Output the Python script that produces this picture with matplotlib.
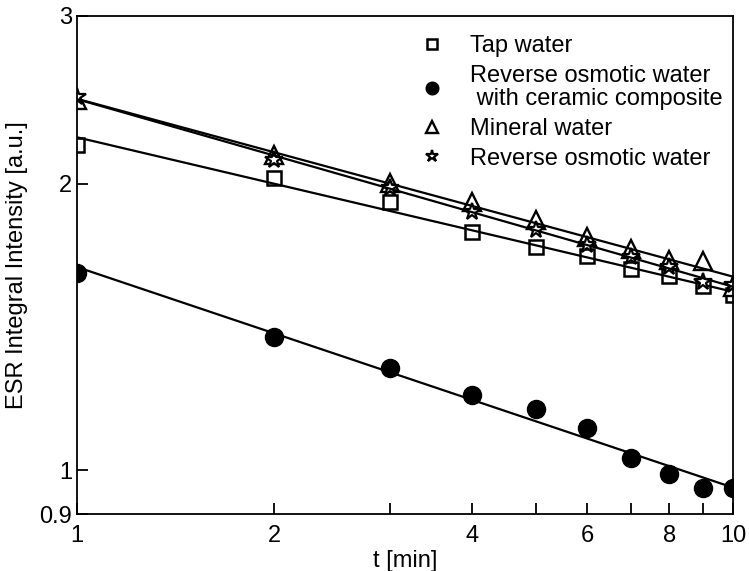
import numpy as np
import matplotlib
matplotlib.use('Agg')
import matplotlib.pyplot as plt
from matplotlib.ticker import FixedLocator, NullFormatter, NullLocator

plt.rcParams['font.family'] = ['Liberation Sans', 'DejaVu Sans']

t = [1, 2, 3, 4, 5, 6, 7, 8, 9, 10]
tap = [2.196, 2.028, 1.913, 1.780, 1.718, 1.679, 1.626, 1.600, 1.562, 1.528]
ro_ceramic = [1.612, 1.381, 1.281, 1.200, 1.160, 1.109, 1.031, 0.991, 0.959, 0.959]
mineral = [2.449, 2.144, 2.002, 1.912, 1.832, 1.760, 1.707, 1.663, 1.659, 1.557]
ro = [2.468, 2.118, 1.978, 1.869, 1.788, 1.724, 1.676, 1.636, 1.578, 1.566]

labels = ['Tap water', 'Reverse osmotic water\n with ceramic composite',
          'Mineral water', 'Reverse osmotic water']

fig = plt.figure(figsize=(7.49, 5.71), dpi=100)
ax = fig.add_axes([0.1028, 0.0998, 0.8758, 0.8722])

styles = [
    dict(marker='s', mfc='white', mec='black', ms=10, mew=1.8),
    dict(marker='o', mfc='black', mec='black', ms=13, mew=1),
    dict(marker='^', mfc='white', mec='black', ms=13, mew=1.7),
    dict(marker='*', mfc='white', mec='black', ms=13, mew=1.6),
]

tt = np.array(t, dtype=float)
xfit = np.linspace(1, 10, 50)
for y, lab, st in zip([tap, ro_ceramic, mineral, ro], labels, styles):
    ax.plot(t, y, linestyle='none', label=lab, **st)
    # power-law fit (straight line in log-log)
    k, b = np.polyfit(np.log(tt), np.log(y), 1)
    ax.plot(xfit, np.exp(b) * xfit ** k, color='black', lw=1.6)

ax.set_xscale('log')
ax.set_yscale('log')
ax.set_xlim(1, 10)
ax.set_ylim(0.9, 3)

ax.xaxis.set_major_locator(FixedLocator([1, 2, 4, 6, 8, 10]))
ax.xaxis.set_major_formatter(plt.FixedFormatter(['1', '2', '4', '6', '8', '10']))
ax.xaxis.set_minor_locator(FixedLocator([3, 5, 7, 9]))
ax.xaxis.set_minor_formatter(NullFormatter())
ax.yaxis.set_major_locator(FixedLocator([0.9, 1, 2, 3]))
ax.yaxis.set_major_formatter(plt.FixedFormatter(['0.9', '1', '2', '3']))
ax.yaxis.set_minor_locator(NullLocator())

ax.tick_params(which='both', direction='in', length=8, width=1.3, labelsize=17,
               top=False, right=False)
ax.tick_params(axis='x', pad=8)
for s in ax.spines.values():
    s.set_linewidth(1.3)

ax.set_xlabel('t [min]', fontsize=17, labelpad=2)
ax.set_ylabel('ESR Integral Intensity [a.u.]', fontsize=17, labelpad=8)

leg = ax.legend(loc='upper right', frameon=False, fontsize=17, markerscale=0.7,
                handletextpad=0.6, labelspacing=0.33, borderaxespad=0.0,
                bbox_to_anchor=(0.998, 0.98))
for txt in leg.get_texts():
    txt.set_linespacing(1.05)

fig.savefig('out.png', dpi=100)
